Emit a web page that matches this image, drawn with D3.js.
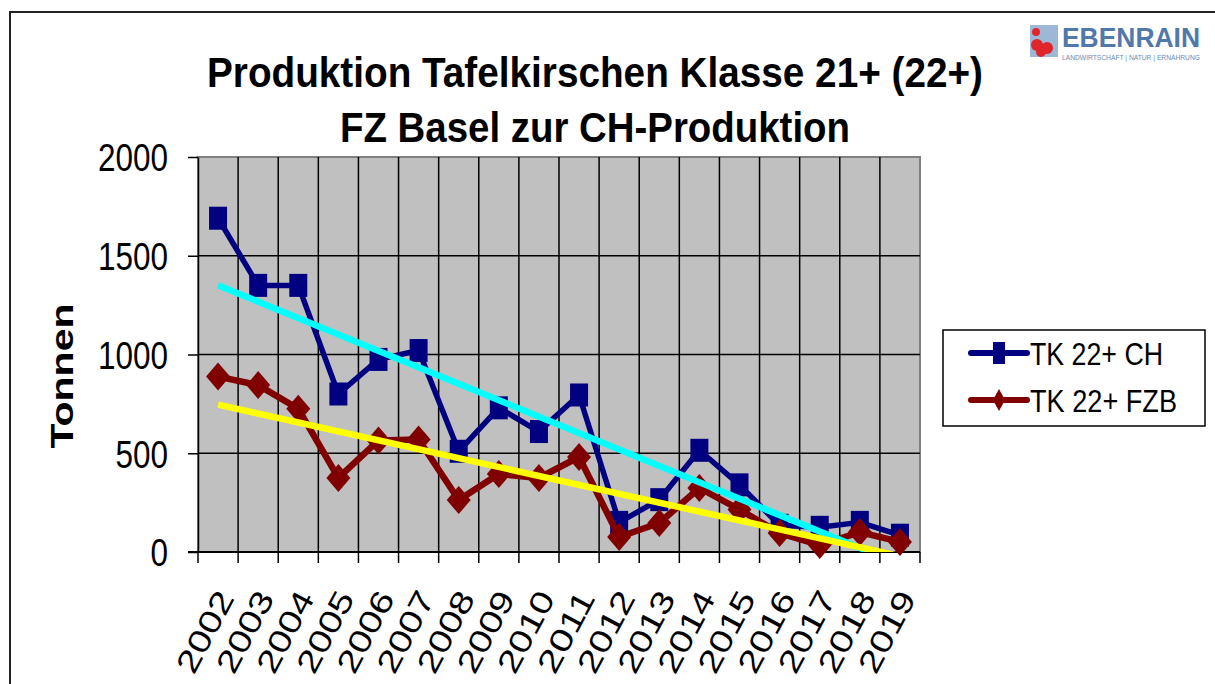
<!DOCTYPE html>
<html>
<head>
<meta charset="utf-8">
<script src="https://cdn.jsdelivr.net/npm/d3@7"></script>
<style>
  body { margin: 0; background: #fff; }
  text { font-family: "Liberation Sans", Arial, sans-serif; }
</style>
</head>
<body>
<div id="chart"></div>
<script>
var years = ["2002","2003","2004","2005","2006","2007","2008","2009","2010",
             "2011","2012","2013","2014","2015","2016","2017","2018","2019"];
var tkCH  = [1690,1350,1350,800,975,1020,510,730,610,795,150,265,515,340,135,125,150,85];
var tkFZB = [888,845,725,375,565,570,263,395,375,481,76,147,324,215,96,35,101,51];
var yTicks = [0,500,1000,1500,2000];
var seriesNames = ["TK 22+ CH","TK 22+ FZB"];

var W = 1215, H = 684;
var plot = {left: 198, right: 920, top: 157, bottom: 552};

var svg = d3.select("#chart")
  .append("svg")
    .attr("width", W)
    .attr("height", H);

// outer frame
svg.append("path")
  .attr("d", "M10," + H + "V12H" + W)
  .attr("fill", "none")
  .attr("stroke", "#222")
  .attr("stroke-width", 2);

var x = d3.scaleBand()
  .domain(years)
  .range([plot.left, plot.right])
  .padding(0);

var y = d3.scaleLinear()
  .domain([0, 2000])
  .range([plot.bottom, plot.top]);

function cx(d, i) { return x(years[i]) + x.bandwidth() / 2; }

// plot background
svg.append("rect")
  .attr("x", plot.left)
  .attr("y", plot.top)
  .attr("width", plot.right - plot.left)
  .attr("height", plot.bottom - plot.top)
  .attr("fill", "#c0c0c0")
  .attr("stroke", "#808080")
  .attr("stroke-width", 2);

// gridlines
svg.append("g")
  .selectAll("line")
  .data(yTicks.filter(function (t) { return t > 0 && t < 2000; }))
  .enter()
  .append("line")
    .attr("x1", plot.left).attr("x2", plot.right)
    .attr("y1", function (d) { return y(d); })
    .attr("y2", function (d) { return y(d); })
    .attr("stroke", "#000")
    .attr("stroke-width", 1.5);

svg.append("g")
  .selectAll("line")
  .data(years.slice(1))
  .enter()
  .append("line")
    .attr("x1", function (d) { return x(d); })
    .attr("x2", function (d) { return x(d); })
    .attr("y1", plot.top).attr("y2", plot.bottom)
    .attr("stroke", "#000")
    .attr("stroke-width", 1.5);

// Y axis
var yAxis = svg.append("g")
  .attr("transform", "translate(" + plot.left + ",0)")
  .call(d3.axisLeft(y).tickValues(yTicks).tickFormat(d3.format("d"))
    .tickSize(10).tickPadding(20).tickSizeOuter(0));
yAxis.select(".domain").attr("stroke", "#000").attr("stroke-width", 1.5);
yAxis.selectAll(".tick line").attr("stroke", "#000").attr("stroke-width", 1.5);
yAxis.selectAll("text")
  .attr("font-size", 39)
  .attr("fill", "#000")
  .attr("dy", "0.358em")
  .attr("textLength", function (d) { return String(d).length * 17.5; })
  .attr("lengthAdjust", "spacingAndGlyphs");

// X axis: ticks at category boundaries
var xAxis = svg.append("g");
xAxis.append("line")
  .attr("x1", plot.left - 10).attr("x2", plot.right)
  .attr("y1", plot.bottom).attr("y2", plot.bottom)
  .attr("stroke", "#000").attr("stroke-width", 2);
xAxis.selectAll(".xt")
  .data(years.concat(["end"]))
  .enter()
  .append("line")
    .attr("class", "xt")
    .attr("x1", function (d) { return d === "end" ? plot.right : x(d); })
    .attr("x2", function (d) { return d === "end" ? plot.right : x(d); })
    .attr("y1", plot.bottom).attr("y2", plot.bottom + 11)
    .attr("stroke", "#000").attr("stroke-width", 1.5);
xAxis.selectAll(".xl")
  .data(years)
  .enter()
  .append("text")
    .attr("class", "xl")
    .attr("transform", function (d) {
      return "translate(" + (x(d) + x.bandwidth() / 2 + 17) + "," + 598 + ") rotate(-62)";
    })
    .attr("text-anchor", "end")
    .attr("font-size", 31)
    .attr("textLength", 88)
    .attr("lengthAdjust", "spacingAndGlyphs")
    .text(function (d) { return d; });

// clip for lines (trends are cut at the axis)
svg.append("clipPath").attr("id", "plotClip")
  .append("rect")
    .attr("x", plot.left).attr("y", plot.top)
    .attr("width", plot.right - plot.left)
    .attr("height", plot.bottom - plot.top);

var line = d3.line()
  .x(cx)
  .y(function (d) { return y(d); });

// CH series
svg.append("path")
  .datum(tkCH)
  .attr("d", line)
  .attr("fill", "none")
  .attr("stroke", "#000080")
  .attr("stroke-width", 5.5)
  .attr("stroke-linejoin", "round");
svg.append("g")
  .selectAll("rect")
  .data(tkCH)
  .enter()
  .append("rect")
    .attr("x", function (d, i) { return cx(d, i) - 9; })
    .attr("y", function (d) { return y(d) - 11.5; })
    .attr("width", 18)
    .attr("height", 23)
    .attr("fill", "#000080");

// FZB series
var diamond = function (w, h) {
  return "M0," + (-h / 2) + "L" + (w / 2) + ",0L0," + (h / 2) + "L" + (-w / 2) + ",0Z";
};
svg.append("path")
  .datum(tkFZB)
  .attr("d", line)
  .attr("fill", "none")
  .attr("stroke", "#800000")
  .attr("stroke-width", 6.5)
  .attr("stroke-linejoin", "round");
svg.append("g")
  .selectAll("path")
  .data(tkFZB)
  .enter()
  .append("path")
    .attr("transform", function (d, i) { return "translate(" + cx(d, i) + "," + y(d) + ")"; })
    .attr("d", diamond(24, 28))
    .attr("fill", "#800000");

// linear trend lines (least squares, like the spreadsheet)
function trend(vals) {
  var n = vals.length, mx = (n - 1) / 2, my = d3.mean(vals);
  var sxy = d3.sum(vals, function (v, i) { return (i - mx) * (v - my); });
  var sxx = d3.sum(vals, function (v, i) { return (i - mx) * (i - mx); });
  var b = sxy / sxx, a = my - b * mx;
  return [a, a + b * (n - 1)];
}
var trendLine = d3.line()
  .x(function (d, i) { return i === 0 ? cx(0, 0) : cx(0, years.length - 1); })
  .y(function (d) { return y(d); });

svg.append("path")
  .datum(trend(tkCH))
  .attr("d", trendLine)
  .attr("clip-path", "url(#plotClip)")
  .attr("fill", "none")
  .attr("stroke", "#00ffff")
  .attr("stroke-width", 6.5);
svg.append("path")
  .datum(trend(tkFZB))
  .attr("d", trendLine)
  .attr("clip-path", "url(#plotClip)")
  .attr("fill", "none")
  .attr("stroke", "#ffff00")
  .attr("stroke-width", 6.5);

// y label
svg.append("text")
  .attr("transform", "translate(73,376) rotate(-90)")
  .attr("text-anchor", "middle")
  .attr("font-size", 32)
  .attr("font-weight", "bold")
  .attr("textLength", 145)
  .attr("lengthAdjust", "spacingAndGlyphs")
  .text("Tonnen");

// title
svg.append("text")
  .attr("x", 595).attr("y", 87)
  .attr("text-anchor", "middle")
  .attr("font-size", 43)
  .attr("font-weight", "bold")
  .attr("textLength", 776)
  .attr("lengthAdjust", "spacingAndGlyphs")
  .text("Produktion Tafelkirschen Klasse 21+ (22+)");
svg.append("text")
  .attr("x", 595).attr("y", 142)
  .attr("text-anchor", "middle")
  .attr("font-size", 43)
  .attr("font-weight", "bold")
  .attr("textLength", 510)
  .attr("lengthAdjust", "spacingAndGlyphs")
  .text("FZ Basel zur CH-Produktion");

// legend
var legend = svg.append("g");
legend.append("rect")
  .attr("x", 943).attr("y", 330)
  .attr("width", 262).attr("height", 96)
  .attr("fill", "#fff")
  .attr("stroke", "#000")
  .attr("stroke-width", 1.5);
var legendRows = [
  {name: seriesNames[0], color: "#000080", y: 353, len: 133},
  {name: seriesNames[1], color: "#800000", y: 400, len: 147}
];
legendRows.forEach(function (r, i) {
  legend.append("line")
    .attr("x1", 971).attr("x2", 1027)
    .attr("y1", r.y).attr("y2", r.y)
    .attr("stroke", r.color)
    .attr("stroke-width", 6)
    .attr("stroke-linecap", "round");
  if (i === 0) {
    legend.append("rect")
      .attr("x", 993).attr("y", r.y - 11)
      .attr("width", 12).attr("height", 22)
      .attr("fill", r.color);
  } else {
    legend.append("path")
      .attr("transform", "translate(999," + r.y + ")")
      .attr("d", diamond(12, 22))
      .attr("fill", r.color);
  }
  legend.append("text")
    .attr("x", 1030).attr("y", r.y + 12)
    .attr("font-size", 31)
    .attr("textLength", r.len)
    .attr("lengthAdjust", "spacingAndGlyphs")
    .text(r.name);
});

// logo
var logo = svg.append("g");
logo.append("rect")
  .attr("x", 1030).attr("y", 25)
  .attr("width", 28).attr("height", 32)
  .attr("fill", "#9db7d6");
[[1037, 45, 6], [1047, 48, 6], [1041, 52, 5], [1036, 32, 4]].forEach(function (c) {
  logo.append("circle")
    .attr("cx", c[0]).attr("cy", c[1]).attr("r", c[2])
    .attr("fill", "#e0262b");
});
logo.append("text")
  .attr("x", 1062).attr("y", 47)
  .attr("font-size", 27)
  .attr("font-weight", "bold")
  .attr("fill", "#4f78ab")
  .attr("textLength", 138)
  .attr("lengthAdjust", "spacingAndGlyphs")
  .text("EBENRAIN");
logo.append("text")
  .attr("x", 1062).attr("y", 60)
  .attr("font-size", 7)
  .attr("fill", "#6b8bb5")
  .attr("textLength", 138)
  .attr("lengthAdjust", "spacingAndGlyphs")
  .text("LANDWIRTSCHAFT | NATUR | ERNÄHRUNG");
</script>
</body>
</html>
